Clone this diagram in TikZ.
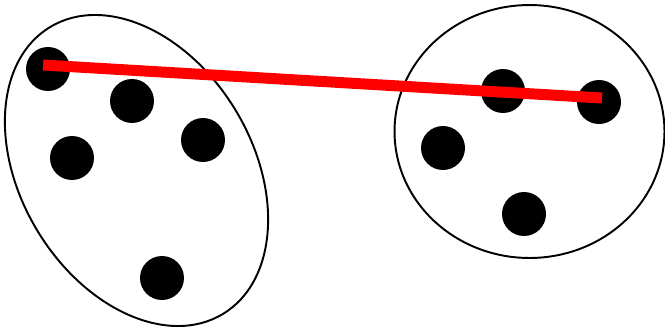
\documentclass[tikz,border=0pt]{standalone}
\begin{document}
\begin{tikzpicture}[x=0.02cm,y=-0.02cm,dot/.style={circle,fill=black,inner sep=0pt,minimum size=0.88cm}]
\useasboundingbox(0,0)rectangle(665,328);
\draw[line width=1.1pt,rotate around={-59:(136.5,170.5)}](136.5,170.5)ellipse[x radius=3.35cm,y radius=2.32cm];
\draw[line width=1.1pt](529.5,131.5)ellipse[x radius=2.7cm,y radius=2.53cm];
\node[dot](l1)at(48,69){};
\node[dot](l2)at(132,101){};
\node[dot](l3)at(203,140){};
\node[dot](l4)at(72,158){};
\node[dot](l5)at(162,278){};
\node[dot](r1)at(503,91){};
\node[dot](r2)at(599,102){};
\node[dot](r3)at(443,148){};
\node[dot](r4)at(524,214){};
\draw[red,line width=0.22cm]([xshift=-0.1cm,yshift=0.08cm]l1.center)--([xshift=0.06cm,yshift=0.08cm]r2.center);
\end{tikzpicture}
\end{document}
